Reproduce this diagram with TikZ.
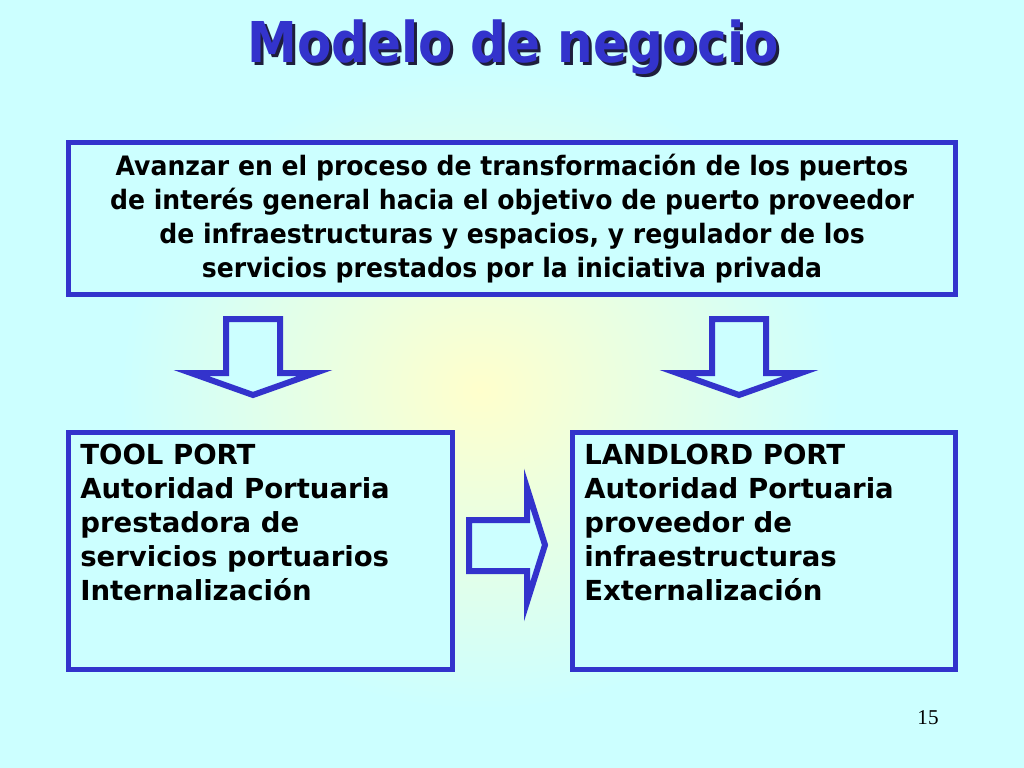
\documentclass[tikz,border=0pt]{standalone}
\usepackage{fontspec}
\setmainfont{DejaVu Sans}
\newfontfamily\titlefont{DejaVu Sans}[FakeStretch=0.89]
\newfontfamily\goalfont{DejaVu Sans}[FakeStretch=0.94]
\newfontfamily\numfont{Liberation Serif}
\usepackage{tikz}
\usetikzlibrary{positioning,calc}

\definecolor{slidebg}{RGB}{204,255,255}
\definecolor{glow}{RGB}{255,255,204}
\definecolor{portblue}{RGB}{51,51,204}
\definecolor{titleshadow}{RGB}{30,30,60}

\tikzset{
  portbox/.style={draw=portblue, line width=0.125cm, fill=slidebg, inner sep=0pt},
  blockarrow/.style={draw=portblue, line width=0.15cm, fill=slidebg, line join=miter},
  titletext/.style={anchor=base, inner sep=0pt, font=\titlefont\bfseries\fontsize{40}{48}\selectfont},
  porttext/.style={anchor=north west, inner sep=0pt, align=left,
    font=\bfseries\fontsize{19.6}{24.2}\selectfont},
}

\begin{document}
\begin{tikzpicture}[x=0.025cm, y=-0.025cm]
    % background
    \fill[slidebg] (0,0) rectangle (1024,768);
    \shade[inner color=glow, outer color=slidebg] (480,390) ellipse [x radius=360, y radius=320];
    \useasboundingbox (0,0) rectangle (1024,768);

    % title
    \node[titletext, text=titleshadow] (titleshade) at (516,66) {Modelo de negocio};
    \node[titletext, text=portblue] (title) at (513,63) {Modelo de negocio};

    % goal
    \node[portbox, minimum width=22.175cm, minimum height=3.8cm] (goal) at (512,218.5) {};
    \node[align=center, inner sep=0pt, font=\goalfont\bfseries\fontsize{19}{24.2}\selectfont]
        (goaltext) at (goal.center) {Avanzar en el proceso de transformación de los puertos\\
        de interés general hacia el objetivo de puerto proveedor\\
        de infraestructuras y espacios, y regulador de los\\
        servicios prestados por la iniciativa privada};

    % down arrows
    \begin{scope}[shift={(253,0)}]
        \draw[blockarrow] (-27,319) -- (27,319) -- (27,373) -- (62,373) -- (0,395)
            -- (-62,373) -- (-27,373) -- cycle;
    \end{scope}
    \begin{scope}[shift={(739,0)}]
        \draw[blockarrow] (-27,319) -- (27,319) -- (27,373) -- (62,373) -- (0,395)
            -- (-62,373) -- (-27,373) -- cycle;
    \end{scope}

    % tool port / landlord port
    \node[portbox, minimum width=9.6cm, minimum height=5.925cm] (tool) at (260.5,551) {};
    \node[portbox, minimum width=9.575cm, minimum height=5.925cm] (landlord) at (764,551) {};
    \node[porttext] (tooltext) at (80,444) {TOOL PORT\\Autoridad Portuaria\\prestadora de\\servicios portuarios\\Internalización};
    \node[porttext] (landlordtext) at (584,444) {LANDLORD PORT\\Autoridad Portuaria\\proveedor de\\infraestructuras\\Externalización};

    % right arrow
    \draw[blockarrow] (469,520) -- (527,520) -- (527,488) -- (545,545) -- (527,602)
        -- (527,571) -- (469,571) -- cycle;

    % page number
    \node[font=\numfont\fontsize{15}{18}\selectfont, inner sep=0pt] (pagenum) at (928,718) {15};
\end{tikzpicture}
\end{document}
